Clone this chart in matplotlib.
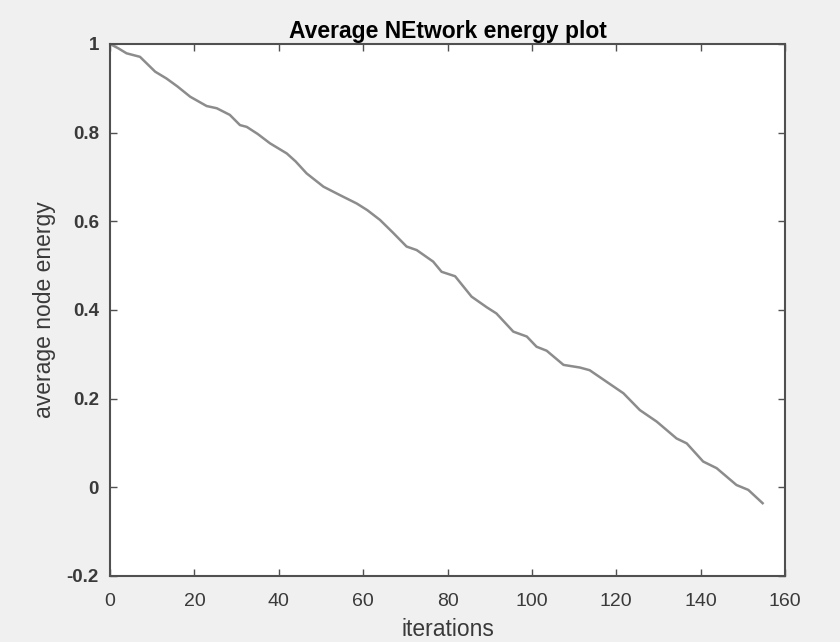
import matplotlib
matplotlib.use("Agg")
import matplotlib.pyplot as plt

iterations = [0, 2, 3.9, 7.1, 10.7, 13.4, 16, 19, 22.9, 25.3, 28.4, 30.8, 32.4, 35, 37.9,
              41.9, 44, 46.6, 50.6, 54.5, 58.5, 61, 64, 67, 70.3, 72.7, 76.6, 78.6, 81.8,
              85.7, 89.3, 91.6, 95.6, 98.8, 101.1, 103.5, 107.5, 111.4, 113.7, 117.7,
              121.7, 125.6, 129.6, 134.3, 136.7, 140.6, 143.8, 148.5, 151.3, 154.7]
energy = [1.0, 0.99, 0.979, 0.971, 0.9375, 0.922, 0.904, 0.881, 0.86, 0.855, 0.84, 0.817,
          0.813, 0.797, 0.776, 0.753, 0.735, 0.708, 0.678, 0.659, 0.64, 0.625, 0.603,
          0.575, 0.543, 0.535, 0.509, 0.486, 0.476, 0.43, 0.406, 0.392, 0.351, 0.34,
          0.317, 0.308, 0.276, 0.27, 0.264, 0.238, 0.212, 0.174, 0.148, 0.11, 0.099,
          0.058, 0.043, 0.005, -0.006, -0.036]

xticks = [0, 20, 40, 60, 80, 100, 120, 140, 160]
yticks = [-0.2, 0, 0.2, 0.4, 0.6, 0.8, 1]
yticklabels = ["-0.2", "0", "0.2", "0.4", "0.6", "0.8", "1"]

plt.rcParams['font.family'] = ['Liberation Sans', 'DejaVu Sans']

fig = plt.figure(figsize=(8.4, 6.42), dpi=100, facecolor='#f0f0f0')
ax = fig.add_axes([0.131, 0.103, 0.8035, 0.8285])
ax.set_facecolor('white')
ax.plot(iterations, energy, color='#8c8c8c', linewidth=1.8)
ax.set_xlim(0, 160)
ax.set_ylim(-0.2, 1)
ax.set_xticks(xticks)
ax.set_xticklabels([str(t) for t in xticks])
ax.set_yticks(yticks)
ax.set_yticklabels(yticklabels, fontweight='bold')
ax.tick_params(direction='in', top=True, right=True, length=5, width=1,
               color='#505050', labelcolor='#3a3a3a')
ax.tick_params(axis='x', labelsize=14, pad=12)
ax.tick_params(axis='y', labelsize=13.5, pad=8)
for s in ax.spines.values():
    s.set_color('#505050')
    s.set_linewidth(1.5)
ax.set_title("Average NEtwork energy plot", fontsize=16.5, fontweight='bold', pad=4)
ax.set_xlabel("iterations", fontsize=16.5, color='#3a3a3a', labelpad=6)
ax.set_ylabel("average node energy", fontsize=16.5, color='#3a3a3a', labelpad=8)
fig.savefig("out.png", dpi=100, facecolor=fig.get_facecolor())
